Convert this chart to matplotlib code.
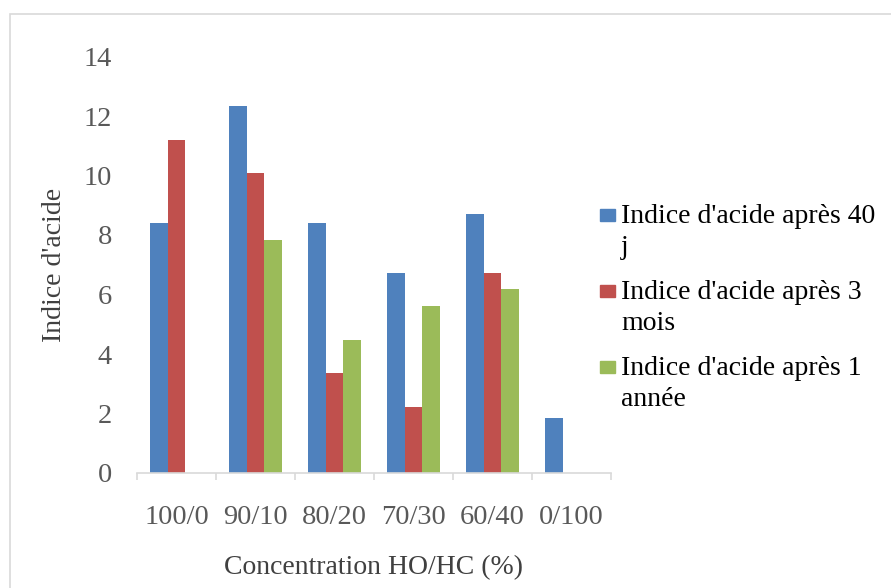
import matplotlib.pyplot as plt
import numpy as np
from matplotlib.patches import Rectangle

plt.rcParams['font.family'] = ['Liberation Serif', 'DejaVu Serif']

categories = ["100/0", "90/10", "80/20", "70/30", "60/40", "0/100"]
series_names = ["Indice d'acide après 40\nj",
                "Indice d'acide après 3\nmois",
                "Indice d'acide après 1\nannée"]
apres_40j = [8.4, 12.35, 8.4, 6.72, 8.7, 1.84]
apres_3mois = [11.2, 10.07, 3.35, 2.23, 6.72, 0]
apres_1an = [0, 7.83, 4.47, 5.6, 6.17, 0]
colors = ["#4F81BD", "#C0504D", "#9BBB59"]

W, H = 891, 588
fig = plt.figure(figsize=(W / 100, H / 100), dpi=100)
ax = fig.add_axes([137 / W, 1 - 473 / H, (611 - 137) / W, (473 - 56.5) / H])

x = np.arange(len(categories))
w = 1 / 4.5
for k, vals in enumerate([apres_40j, apres_3mois, apres_1an]):
    ax.bar(x + (k - 1) * w, vals, width=w, color=colors[k], edgecolor="none")

ax.set_xlim(-0.5, len(categories) - 0.5)
ax.set_ylim(0, 14)
ax.set_yticks(range(0, 15, 2))
ax.set_xticks(x)
ax.set_xticklabels(categories)
ax.set_xticks(np.arange(-0.5, len(categories)), minor=True)

for s in ["top", "right", "left"]:
    ax.spines[s].set_visible(False)
ax.spines["bottom"].set_color("#D9D9D9")
ax.spines["bottom"].set_linewidth(1.2)

ax.tick_params(axis="y", length=0, pad=18, labelsize=20.5, labelcolor="#595959")
ax.tick_params(axis="x", which="major", length=0, pad=23, labelsize=20.5, labelcolor="#595959")
ax.tick_params(axis="x", which="minor", length=5, width=1.2, color="#D9D9D9")

ax.set_xlabel("Concentration HO/HC (%)", fontsize=20, color="#404040", labelpad=18)
ax.set_ylabel("Indice d'acide", fontsize=20, color="#404040", labelpad=12)

# legend entries drawn by hand, square beside the first line of each label
for k, name in enumerate(series_names):
    base = 223.3 + k * 76
    fig.add_artist(Rectangle((600 / W, 1 - (base - 2) / H), 15 / W, 12 / H,
                             transform=fig.transFigure, color=colors[k]))
    line1, line2 = name.split("\n")
    fig.text(621 / W, 1 - base / H, line1, fontsize=20, color="black", va="baseline")
    fig.text(621 / W, 1 - (base + 30.5) / H, line2, fontsize=20, color="black", va="baseline")

# chart area border
fig.add_artist(Rectangle((10 / W, -0.1), 1.2, 1 - 14 / H + 0.1, transform=fig.transFigure,
                         fill=False, edgecolor="#D9D9D9", linewidth=1.2, clip_on=False))

fig.savefig("out.png", dpi=100)
